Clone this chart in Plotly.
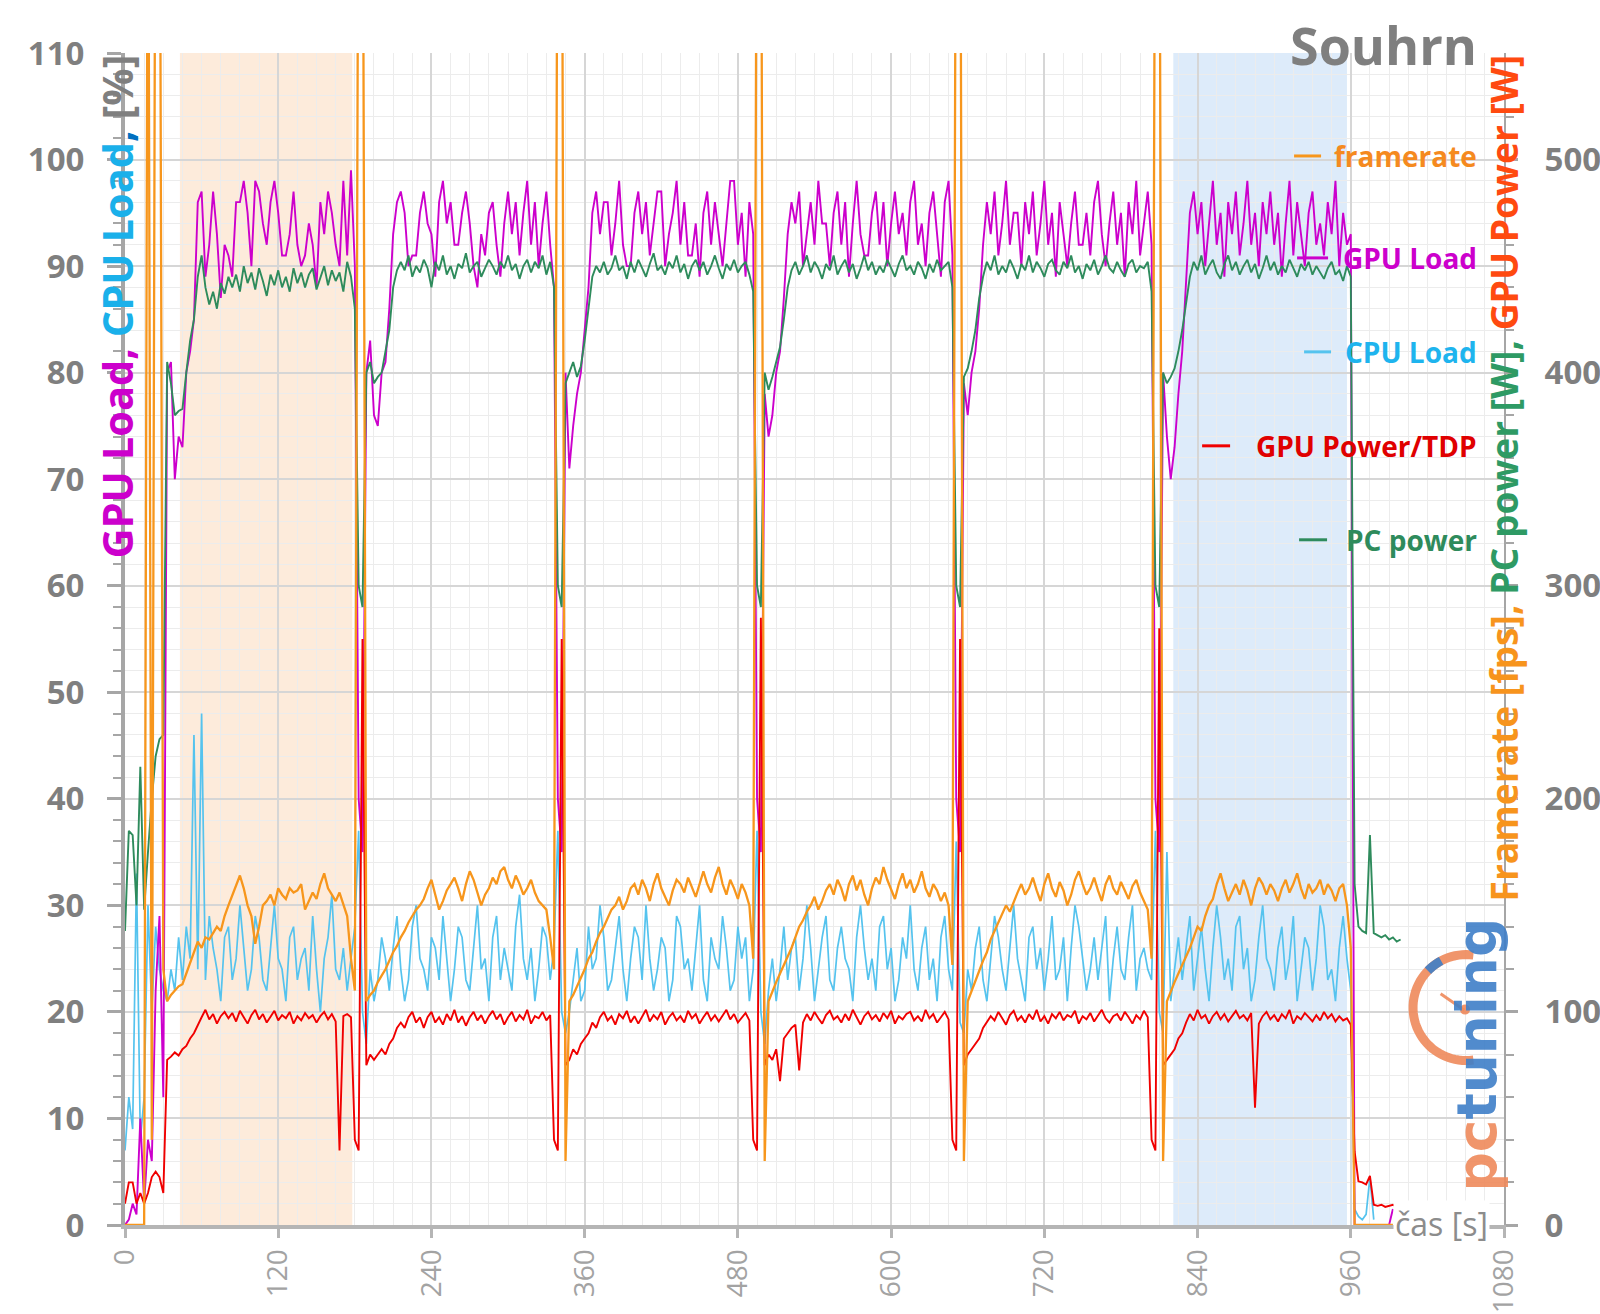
import math
import plotly.graph_objects as go

# ---------------- data (sampled every 3 s) ----------------
time_s = list(range(0, 1005, 3))  # 0 .. 1002 s

gpu_load_pct = (
    # start 0-30 s
    [0, 0.5, 2, 1, 10, 2, 8, 6, 22, 29, 12] +
    # run 1 (33-186 s)
    [80, 81, 70, 74, 73, 80, 82, 85, 96, 97, 89, 92, 97, 93, 87, 92, 91, 89, 96, 96,
     98, 95, 90, 98, 97, 94, 92, 96, 98, 95, 91, 91, 93, 97, 92, 90, 91, 94, 92, 88,
     96, 93, 97, 95, 92, 90, 98, 91, 99, 90, 40, 35] +
    # run 2
    [80, 83, 76, 75, 80, 81, 86, 93, 96, 97, 95, 90, 91, 91, 95, 97, 94, 93, 89, 96,
     98, 94, 96, 92, 92, 95, 97, 94, 90, 88, 93, 91, 95, 96, 92, 89, 94, 97, 93, 96,
     91, 95, 98, 92, 96, 90, 94, 97, 92, 88, 40, 35] +
    # run 3
    [80, 71, 75, 78, 80, 84, 88, 95, 97, 93, 96, 96, 91, 94, 98, 92, 90, 90, 95, 97,
     93, 96, 91, 94, 97, 97, 90, 93, 95, 98, 92, 96, 91, 91, 94, 89, 95, 97, 92, 96,
     93, 90, 94, 98, 98, 92, 95, 89, 96, 93, 40, 35] +
    # run 4
    [78, 74, 76, 80, 82, 87, 93, 96, 94, 97, 90, 93, 96, 92, 98, 94, 94, 90, 95, 97,
     92, 96, 89, 94, 98, 93, 91, 91, 95, 97, 92, 96, 90, 94, 97, 93, 95, 91, 96, 98,
     92, 94, 90, 95, 97, 93, 89, 96, 98, 91, 40, 35] +
    # run 5
    [79, 76, 80, 82, 86, 92, 96, 93, 97, 91, 94, 98, 92, 95, 95, 90, 96, 93, 97, 91,
     94, 98, 92, 95, 89, 96, 93, 90, 94, 97, 92, 92, 95, 91, 96, 98, 93, 90, 94, 97,
     92, 95, 89, 96, 93, 98, 91, 94, 97, 92, 40, 35] +
    # run 6 (813-960 s)
    [80, 74, 70, 73, 78, 82, 88, 95, 97, 93, 96, 90, 94, 98, 92, 95, 89, 96, 93, 97,
     91, 94, 98, 92, 95, 90, 96, 93, 97, 92, 95, 89, 94, 98, 91, 96, 93, 90, 95, 97,
     92, 94, 91, 96, 93, 98, 90, 95, 92, 93] +
    # end 963-1002 s
    [0, 0, 0, 0, 0, 0, 0, 0, 0, 0, 1.5, None, None, None]
)

cpu_load_pct = (
    [7, 12, 9, 33, 8, 12, 30, 20, 28, 24, 22] +
    [21, 24, 22, 27, 23, 28, 25, 46, 24, 48, 23, 29, 26, 24, 21, 27, 28, 23, 25, 30,
     26, 22, 24, 29, 27, 23, 22, 26, 30, 25, 24, 21, 27, 28, 23, 25, 26, 22, 29, 24,
     20, 25, 27, 31, 24, 23, 26, 22, 25, 28, 37, 20] +
    [17, 24, 21, 23, 27, 25, 22, 26, 29, 24, 21, 23, 28, 30, 25, 24, 22, 27, 26, 23,
     29, 25, 21, 24, 28, 27, 23, 22, 26, 30, 24, 25, 21, 27, 29, 23, 26, 24, 22, 28,
     31, 25, 23, 26, 21, 24, 28, 27, 23, 26, 37, 20] +
    [18, 20, 23, 26, 21, 22, 28, 24, 25, 30, 27, 22, 23, 26, 29, 24, 21, 25, 28, 27,
     23, 30, 25, 22, 24, 27, 26, 21, 23, 29, 28, 24, 25, 22, 26, 30, 23, 21, 27, 25,
     24, 29, 26, 22, 23, 28, 25, 27, 21, 24, 37, 20] +
    [17, 22, 25, 21, 24, 28, 23, 26, 27, 22, 25, 30, 26, 21, 24, 27, 29, 23, 22, 26,
     28, 25, 24, 21, 27, 30, 26, 23, 25, 22, 28, 29, 24, 26, 21, 23, 27, 25, 30, 24,
     22, 26, 28, 23, 25, 21, 27, 29, 24, 22, 36, 19] +
    [18, 24, 22, 26, 28, 23, 21, 25, 29, 27, 24, 22, 26, 30, 25, 23, 21, 27, 28, 24,
     26, 22, 25, 29, 23, 24, 27, 21, 26, 30, 28, 25, 22, 24, 27, 23, 26, 29, 21, 25,
     28, 24, 23, 27, 30, 22, 25, 26, 24, 23, 37, 20] +
    [18, 35, 21, 24, 27, 23, 26, 29, 22, 25, 28, 24, 21, 26, 30, 27, 23, 25, 22, 28,
     29, 24, 26, 21, 23, 27, 30, 25, 24, 22, 26, 28, 23, 25, 29, 21, 24, 27, 26, 22,
     25, 30, 28, 23, 24, 21, 26, 29, 25, 22] +
    [1.5, 0.8, 0.5, 1, 4.5, 0.5, None, None, None, None, None, None, None, None]
)

gpu_power_tdp_pct = (
    [2, 4, 4, 2, 3, 2, 3, 4.5, 5, 4.5, 3] +
    [15.5, 15.8, 16.2, 15.9, 16.5, 16.8, 17.5, 18, 18.8, 19.5, 20.2, 19.3, 19.8, 18.9, 19.6, 20, 19.4, 19.9, 19.1, 20.1,
     19.5, 18.9, 19.7, 20.2, 19.3, 19.8, 19, 19.6, 20.1, 19.2, 19.7, 19.4, 20, 18.9, 19.6, 19.2, 19.9, 19.4, 19.7, 19,
     19.6, 20, 19.3, 19.8, 19.1, 7, 19.6, 19.8, 19.5, 8, 7, 55] +
    [15, 16, 15.5, 16, 16.5, 16, 17, 17.5, 18.5, 19, 18.5, 19.5, 20, 19, 19.5, 18.5, 19.5, 20, 19, 19.5,
     18.8, 19.8, 19.2, 20.2, 19, 19.6, 18.7, 19.5, 20, 19.2, 19.7, 18.9, 19.6, 20.1, 19.3, 19.8, 18.8, 19.5, 20, 19.1,
     19.7, 19.3, 20.2, 18.9, 19.6, 19.4, 20, 19.2, 19.7, 8, 7, 55] +
    [15, 15.5, 16.5, 16, 17, 17.5, 18, 19, 18.5, 19.5, 20, 19.2, 19.6, 18.8, 19.8, 19.4, 20.1, 19, 19.6, 18.9,
     19.5, 20.2, 19.1, 19.7, 19.3, 20, 18.8, 19.5, 19.9, 19.2, 19.6, 19, 20.1, 19.4, 19.8, 18.9, 19.5, 20, 19.2, 19.7,
     19.1, 19.6, 20.2, 19.3, 19.8, 19, 19.5, 19.9, 19.2, 8, 7, 57] +
    [15, 16, 15.5, 16.5, 13.5, 17.5, 18, 18.5, 18.8, 14.5, 19, 19.8, 19.2, 20, 19.4, 18.9, 19.7, 20.1, 19.3, 19.6,
     19, 19.8, 19.2, 20.2, 19.5, 18.8, 19.6, 20, 19.3, 19.7, 19.1, 19.9, 19.4, 20.1, 18.9, 19.6, 19.3, 19.8, 20, 19.2,
     19.6, 19.1, 20.2, 19.4, 19.8, 19, 19.5, 20, 19.3, 8, 7, 55] +
    [15, 16, 16.5, 17, 17.5, 18.5, 19, 19.6, 19.2, 20, 19.4, 18.8, 19.7, 20.1, 19.2, 19.6, 19, 19.8, 19.3, 20.2,
     19.1, 19.6, 18.9, 19.8, 19.4, 20, 19.2, 19.7, 19.5, 20.1, 18.9, 19.6, 19.3, 19.9, 19.1, 19.7, 20.2, 19.4, 19, 19.6,
     19.8, 19.2, 20, 19.5, 18.9, 19.7, 19.3, 20.1, 19.5, 8, 7, 56] +
    [15, 15.5, 16, 16.5, 17.5, 18, 19, 19.8, 19.2, 20.2, 19.4, 19.7, 18.9, 19.6, 20, 19.3, 19.8, 19.1, 19.6, 20.1,
     19.4, 19.7, 19.2, 19.9, 11, 18.9, 19.6, 20, 19.3, 19.7, 19.1, 19.8, 19.4, 20.2, 18.9, 19.6, 19.3, 19.9, 19.5, 19.1,
     19.7, 19.2, 20, 19.4, 19.8, 19.1, 19.6, 19.2, 19.4, 18.8] +
    [6.9, 4.1, 4, 3.8, 4.6, 1.9, 1.8, 1.9, 1.7, 1.8, 1.9, 1.7, 1.8, None]
)

pc_power_w = (
    [138, 185, 183, 150, 215, 148, 175, 200, 220, 228, 230] +
    [405, 395, 380, 382, 383, 400, 415, 425, 445, 455, 440, 432, 438, 430, 442, 437, 445, 440, 446, 438,
     450, 442, 447, 439, 449, 443, 436, 446, 441, 448, 440, 445, 438, 449, 442, 447, 440, 446, 449, 439,
     444, 450, 441, 448, 443, 447, 438, 452, 445, 430, 300, 290] +
    [400, 405, 395, 398, 400, 410, 420, 440, 448, 452, 448, 455, 445, 450, 447, 453, 449, 440, 452, 448,
     455, 446, 450, 444, 451, 449, 456, 447, 450, 452, 445, 449, 453, 450, 446, 452, 449, 455, 448, 451,
     444, 450, 453, 447, 452, 449, 455, 446, 452, 440, 300, 290] +
    [395, 400, 405, 398, 403, 415, 430, 445, 450, 447, 452, 446, 449, 455, 448, 450, 444, 452, 447, 453,
     449, 445, 451, 456, 448, 450, 446, 452, 449, 455, 447, 451, 444, 450, 453, 448, 452, 446, 450, 455,
     449, 444, 451, 448, 453, 447, 450, 452, 446, 438, 300, 290] +
    [400, 392, 398, 405, 412, 425, 440, 448, 452, 446, 450, 455, 447, 452, 449, 444, 451, 448, 455, 446,
     450, 453, 447, 451, 444, 449, 455, 448, 452, 446, 450, 447, 453, 449, 445, 451, 455, 448, 450, 446,
     452, 449, 444, 451, 447, 453, 448, 450, 452, 440, 300, 290] +
    [398, 402, 410, 420, 435, 445, 452, 448, 455, 446, 450, 447, 453, 449, 444, 451, 448, 455, 447, 452,
     449, 445, 451, 453, 448, 446, 452, 449, 455, 447, 450, 444, 451, 448, 453, 446, 450, 455, 449, 447,
     452, 448, 445, 451, 453, 447, 450, 449, 452, 438, 300, 290] +
    [400, 395, 398, 402, 410, 420, 432, 445, 452, 448, 455, 446, 450, 453, 447, 444, 451, 455, 448, 452,
     446, 450, 453, 447, 451, 444, 449, 455, 448, 452, 446, 450, 447, 453, 449, 445, 451, 448, 452, 446,
     450, 447, 444, 449, 452, 446, 448, 443, 450, 445] +
    [160, 140, 138, 137, 183, 137, 136, 135, 136, 134, 135, 133, 134, None]
)

framerate_fps = (
    [0, 0, 0, 0, 0, 0, 700, 40, 700, 700, 120] +
    [105, 108, 110, 112, 113, 118, 122, 128, 133, 130, 135, 134, 137, 140, 138, 145, 150, 155, 160, 164,
     158, 150, 145, 132, 140, 150, 152, 155, 150, 158, 155, 153, 158, 156, 157, 160, 148, 152, 156, 153,
     160, 165, 158, 155, 152, 156, 150, 145, 125, 110, 700, 700] +
    [105, 108, 110, 114, 117, 120, 124, 128, 131, 135, 138, 142, 145, 148, 150, 153, 158, 162, 155, 148,
     152, 157, 160, 163, 158, 152, 160, 166, 162, 156, 150, 155, 158, 163, 160, 166, 168, 162, 158, 164,
     160, 155, 158, 162, 156, 152, 150, 148, 135, 120, 700, 700] +
    [30, 105, 108, 112, 116, 120, 125, 128, 133, 137, 140, 144, 148, 150, 154, 148, 152, 158, 160, 155,
     162, 158, 152, 160, 165, 158, 154, 150, 157, 162, 160, 156, 163, 158, 154, 160, 166, 160, 156, 163,
     168, 160, 155, 162, 158, 153, 160, 156, 150, 125, 700, 700] +
    [30, 105, 110, 114, 118, 122, 126, 130, 135, 140, 143, 147, 150, 154, 148, 152, 157, 160, 155, 162,
     158, 152, 160, 164, 157, 162, 155, 150, 158, 163, 160, 168, 162, 157, 153, 160, 165, 158, 162, 156,
     160, 166, 158, 154, 160, 157, 152, 156, 150, 122, 700, 700] +
    [30, 105, 110, 115, 120, 124, 128, 134, 138, 142, 146, 150, 147, 152, 156, 160, 155, 158, 163, 157,
     152, 160, 165, 158, 154, 161, 157, 150, 155, 162, 166, 160, 155, 158, 163, 157, 152, 160, 164, 158,
     155, 161, 157, 153, 159, 162, 156, 152, 148, 125, 700, 700] +
    [30, 105, 110, 114, 118, 122, 126, 130, 135, 140, 138, 145, 150, 153, 160, 165, 158, 152, 156, 160,
     155, 162, 157, 150, 158, 163, 160, 155, 160, 157, 152, 158, 162, 156, 160, 165, 158, 153, 160, 156,
     158, 162, 155, 160, 157, 152, 158, 160, 150, 130] +
    [0, 0, 0, 0, 0, 0, 0, 0, 0, 0, 0, None, None, None]
)

highlight_orange_s = [43, 178]
highlight_blue_s = [821, 957]

x_ticks = [0, 120, 240, 360, 480, 600, 720, 840, 960, 1080]

for _name, _s in [("gpu", gpu_load_pct), ("cpu", cpu_load_pct), ("red", gpu_power_tdp_pct),
                  ("pc", pc_power_w), ("fps", framerate_fps)]:
    if len(_s) != len(time_s):
        raise ValueError(f"{_name}: {len(_s)} != {len(time_s)}")

# ---------------- colours ----------------
C_FPS = "#F7961C"
C_GPU = "#CC00CC"
C_CPU = "#55C3EE"
C_RED = "#F00000"
C_PC = "#2E8B5C"
GRAY = "#7f7f7f"

# ---------------- geometry helpers (pixels -> paper) ----------------
W, H = 1600, 1314
L, R, T, B = 124.5, 1504.0, 53.0, 1225.5


def px_x(px):
    return (px - L) / (R - L)


def px_y(py):
    return (B - py) / (B - T)


fig = go.Figure()

fig.add_trace(go.Scatter(x=time_s, y=cpu_load_pct, mode="lines", name="CPU Load",
                         line=dict(color=C_CPU, width=1.7), yaxis="y"))
fig.add_trace(go.Scatter(x=time_s, y=pc_power_w, mode="lines", name="PC power",
                         line=dict(color=C_PC, width=1.9), yaxis="y2"))
fig.add_trace(go.Scatter(x=time_s, y=gpu_load_pct, mode="lines", name="GPU Load",
                         line=dict(color=C_GPU, width=1.9), yaxis="y"))
fig.add_trace(go.Scatter(x=time_s, y=framerate_fps, mode="lines", name="framerate",
                         line=dict(color=C_FPS, width=2.3), yaxis="y2"))
fig.add_trace(go.Scatter(x=time_s, y=gpu_power_tdp_pct, mode="lines", name="GPU Power/TDP",
                         line=dict(color=C_RED, width=1.9), yaxis="y"))

shapes = [
    dict(type="rect", xref="x", yref="paper", x0=highlight_orange_s[0], x1=highlight_orange_s[1],
         y0=0, y1=1, fillcolor="#FDEBDB", line=dict(width=0), layer="below"),
    dict(type="rect", xref="x", yref="paper", x0=highlight_blue_s[0], x1=highlight_blue_s[1],
         y0=0, y1=1, fillcolor="#DDEBFA", line=dict(width=0), layer="below"),
]

annotations = []

# title
annotations.append(dict(xref="paper", yref="paper", x=px_x(1479), y=px_y(44), xanchor="right",
                        yanchor="middle", showarrow=False, text="Souhrn",
                        font=dict(family="Open Sans", size=52, color=GRAY, weight="bold")))

# custom legend
legend_items = [
    ("framerate", "#F58A1F", C_FPS, 156, 1294, 1321),
    ("GPU Load", C_GPU, C_GPU, 258, 1297, 1328),
    ("CPU Load", "#1EB4EE", C_CPU, 352, 1304, 1331),
    ("GPU Power/TDP", "#E00000", C_RED, 446, 1202, 1230),
    ("PC power", C_PC, C_PC, 540, 1299, 1327),
]
for label, tcol, lcol, yy, lx0, lx1 in legend_items:
    annotations.append(dict(xref="paper", yref="paper", x=px_x(1479), y=px_y(yy), xanchor="right",
                            yanchor="middle", showarrow=False, text=label,
                            font=dict(family="Open Sans", size=28, color=tcol, weight="bold")))
    shapes.append(dict(type="line", xref="paper", yref="paper", x0=px_x(lx0), x1=px_x(lx1),
                       y0=px_y(yy), y1=px_y(yy), line=dict(color=lcol, width=3)))

# axis titles
annotations.append(dict(
    xref="paper", yref="paper", x=px_x(116), y=px_y(53), xanchor="center", yanchor="top",
    textangle=-90, showarrow=False,
    text=("<span style='color:#CC00CC'>GPU Load,</span> <span style='color:#1AB0EA'>CPU Load</span>"
          "<span style='color:#0070C0'>,</span> <span style='color:#7f7f7f'>[%]</span>"),
    font=dict(family="Open Sans", size=41.5, weight="bold")))
annotations.append(dict(
    xref="paper", yref="paper", x=px_x(1503), y=px_y(53), xanchor="center", yanchor="top",
    textangle=-90, showarrow=False,
    text=("<span style='color:#F7941D'>Framerate [fps],</span> <span style='color:#2E9A64'>PC power [W],</span>"
          " <span style='color:#FF4A10'>GPU Power [W]</span>"),
    font=dict(family="Open Sans", size=37.2, weight="bold")))

# x axis label
annotations.append(dict(xref="paper", yref="paper", x=px_x(1490), y=px_y(1224), xanchor="right",
                        yanchor="middle", showarrow=False, text="čas [s]", bgcolor="white",
                        font=dict(family="Open Sans", size=32, color="#8c8c8c")))

# logo text
annotations.append(dict(
    xref="paper", yref="paper", x=px_x(1477), y=px_y(1055), xanchor="center", yanchor="middle",
    textangle=-90, showarrow=False, opacity=0.9,
    text="<span style='color:#EF8A5C'>pc</span><span style='color:#3F7FC8'>tuning</span>",
    font=dict(family="DejaVu Sans", size=55, weight="bold")))

# logo gauge
cx, cy, rr = 1466, 1008, 53
arc = [(cx + rr * math.cos(math.radians(a)), cy - rr * math.sin(math.radians(a))) for a in range(82, 279, 4)]
shapes.append(dict(type="path", xref="paper", yref="paper",
                   path="M " + " L ".join(f"{px_x(x):.5f},{px_y(y):.5f}" for x, y in arc),
                   line=dict(color="#EF8A5C", width=9), opacity=0.9))
mark = [(cx + rr * math.cos(math.radians(a)), cy - rr * math.sin(math.radians(a))) for a in range(118, 137, 3)]
shapes.append(dict(type="path", xref="paper", yref="paper",
                   path="M " + " L ".join(f"{px_x(x):.5f},{px_y(y):.5f}" for x, y in mark),
                   line=dict(color="#3F7FC8", width=9), opacity=0.9))
shapes.append(dict(type="line", xref="paper", yref="paper", x0=px_x(cx - 0.48 * rr), y0=px_y(cy - 0.26 * rr),
                   x1=px_x(cx - 0.03 * rr), y1=px_y(cy + 0.05 * rr), line=dict(color="#EF8A5C", width=3),
                   opacity=0.9))
shapes.append(dict(type="circle", xref="paper", yref="paper", x0=px_x(cx - 6), x1=px_x(cx + 4),
                   y0=px_y(cy + 7), y1=px_y(cy - 3), fillcolor="#EF8A5C", line=dict(width=0), opacity=0.9))

tickfont_y = dict(family="Open Sans", size=33, color=GRAY, weight="bold")

fig.update_layout(
    template="none",
    width=W, height=H,
    margin=dict(l=L, r=W - R, t=T, b=H - B, pad=0),
    paper_bgcolor="white", plot_bgcolor="white",
    showlegend=False,
    xaxis=dict(range=[0, 1080], tickvals=x_ticks, tickangle=-90, automargin=False,
               showgrid=True, gridcolor="#d6d6d6", gridwidth=1.5,
               minor=dict(dtick=15, tick0=0, showgrid=True, gridcolor="#ececec", gridwidth=1),
               showline=True, linecolor="#b5b5b5", linewidth=4,
               ticks="outside", ticklen=9, tickwidth=3, tickcolor="#b5b5b5",
               tickfont=dict(family="Open Sans", size=28, color="#a3a3a3"), zeroline=False),
    yaxis=dict(range=[0, 110], dtick=10, tick0=0, automargin=False,
               showgrid=True, gridcolor="#d6d6d6", gridwidth=1.5,
               minor=dict(dtick=2, tick0=0, showgrid=True, gridcolor="#ececec", gridwidth=1,
                          ticks="outside", ticklen=8, tickwidth=2, tickcolor="#a6a6a6"),
               showline=True, linecolor="#a6a6a6", linewidth=4,
               ticks="outside", ticklen=14, tickwidth=3, tickcolor="#a6a6a6",
               tickfont=tickfont_y, ticklabelstandoff=16, zeroline=False),
    yaxis2=dict(range=[0, 550], dtick=100, tick0=0, overlaying="y", side="right", automargin=False,
                showgrid=False,
                minor=dict(dtick=20, tick0=0, ticks="outside", ticklen=8, tickwidth=2, tickcolor="#a6a6a6"),
                showline=True, linecolor="#a6a6a6", linewidth=2,
                ticks="outside", ticklen=12, tickwidth=3, tickcolor="#a6a6a6",
                tickfont=tickfont_y, ticklabelstandoff=20, zeroline=False),
    shapes=shapes,
    annotations=annotations,
)

fig.write_html("out.html", config={"displayModeBar": False},
               post_script="document.body.style.margin='0';document.body.style.overflow='hidden';")
